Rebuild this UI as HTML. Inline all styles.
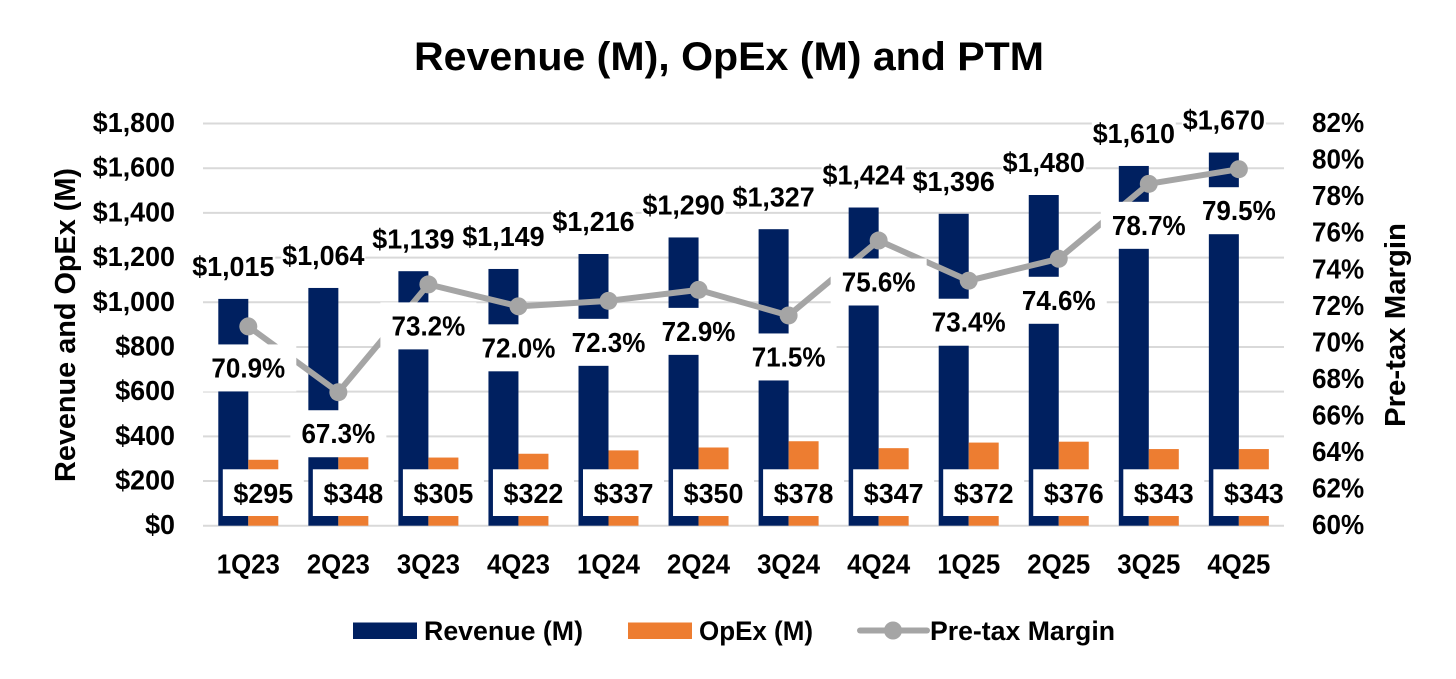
<!DOCTYPE html>
<html lang="en">
<head>
<meta charset="utf-8">
<title>Revenue (M), OpEx (M) and PTM</title>
<style>
  html, body { margin: 0; padding: 0; background: #fff; }
  svg { display: block; }
  text { font-family: "Liberation Sans", sans-serif; font-weight: 700; fill: #000; }
  .val { font-size: 28px; }
  .tick { font-size: 28px; }
</style>
</head>
<body>
<svg id="chart" width="1456" height="679" viewBox="0 0 1456 679" xmlns="http://www.w3.org/2000/svg">
  <rect x="0" y="0" width="1456" height="679" fill="#ffffff"/>
  <text x="729" y="70" text-anchor="middle" font-size="40" textLength="630" lengthAdjust="spacingAndGlyphs">Revenue (M), OpEx (M) and PTM</text>
  <text transform="translate(75,325) rotate(-90)" text-anchor="middle" font-size="29" textLength="314" lengthAdjust="spacingAndGlyphs">Revenue and OpEx (M)</text>
  <text transform="translate(1405,325) rotate(-90)" text-anchor="middle" font-size="29" textLength="204" lengthAdjust="spacingAndGlyphs">Pre-tax Margin</text>
  <g id="grid"></g>
  <g id="rev-bars"></g>
  <g id="opex-bars"></g>
  <g id="ptm"></g>
  <g id="labels"></g>
  <g id="axes"></g>
  <g>
    <g>
      <rect x="353" y="622.5" width="64" height="16.5" fill="#002060"/>
      <text x="424" y="640" font-size="27" textLength="159" lengthAdjust="spacingAndGlyphs">Revenue (M)</text>
    </g>
    <g>
      <rect x="628" y="622.5" width="64" height="16.5" fill="#ED7D31"/>
      <text x="699" y="640" font-size="27" textLength="114" lengthAdjust="spacingAndGlyphs">OpEx (M)</text>
    </g>
    <g>
      <line x1="860" y1="630.5" x2="927" y2="630.5" stroke="#A5A5A5" stroke-width="6" stroke-linecap="round"/>
      <circle cx="893" cy="630.5" r="9" fill="#A5A5A5"/>
      <text x="930" y="640" font-size="27" textLength="185" lengthAdjust="spacingAndGlyphs">Pre-tax Margin</text>
    </g>
  </g>
</svg>
<script>
const categories = ["1Q23","2Q23","3Q23","4Q23","1Q24","2Q24","3Q24","4Q24","1Q25","2Q25","3Q25","4Q25"];
const revenue = [1015,1064,1139,1149,1216,1290,1327,1424,1396,1480,1610,1670];
const opex = [295,348,305,322,337,350,378,347,372,376,343,343];
const margin = [70.9,67.3,73.2,72.0,72.3,72.9,71.5,75.6,73.4,74.6,78.7,79.5];
const leftTicks = [0,200,400,600,800,1000,1200,1400,1600,1800];
const rightTicks = [60,62,64,66,68,70,72,74,76,78,80,82];

const NS = "http://www.w3.org/2000/svg";
const plotLeft = 203, plotRight = 1284, plotTop = 123.5, plotBottom = 525.7;
const firstCenter = 248.3, catStep = 90.05, barWidth = 30;
const yLeft = v => plotBottom - (v - leftTicks[0]) / (leftTicks[leftTicks.length - 1] - leftTicks[0]) * (plotBottom - plotTop);
const yRight = v => plotBottom - (v - rightTicks[0]) / (rightTicks[rightTicks.length - 1] - rightTicks[0]) * (plotBottom - plotTop);
const xCat = i => firstCenter + i * catStep;
const money = v => "$" + v.toLocaleString("en-US");

function make(tag, parent, attrs, txt) {
  const el = document.createElementNS(NS, tag);
  for (const k in attrs) el.setAttribute(k, attrs[k]);
  if (txt !== undefined) el.textContent = txt;
  parent.appendChild(el);
  return el;
}
/* narrow a rendered label horizontally so it keeps the taller, condensed look */
function condense(el, factor) {
  el.setAttribute("textLength", (el.getComputedTextLength() * factor).toFixed(1));
  el.setAttribute("lengthAdjust", "spacingAndGlyphs");
}
const moneyFit = 0.96, percentFit = 0.93, categoryFit = 0.92;

const gGrid = document.getElementById("grid");
const gRev = document.getElementById("rev-bars");
const gOpex = document.getElementById("opex-bars");
const gPtm = document.getElementById("ptm");
const gLabels = document.getElementById("labels");
const gAxes = document.getElementById("axes");

leftTicks.forEach(t => {
  const line = make("line", gGrid, {x1: plotLeft, x2: plotRight, y1: yLeft(t), y2: yLeft(t), stroke: "#D9D9D9", "stroke-width": 2});
  
  
  const lab = make("text", gAxes, {x: 175, y: yLeft(t) + 8.5, "text-anchor": "end", class: "tick"}, money(t));
  
  
  condense(lab, moneyFit);
});
rightTicks.forEach(t => {
  const lab = make("text", gAxes, {x: 1312, y: yRight(t) + 8.5, class: "tick"}, t + "%");
  
  
  condense(lab, percentFit);
});
categories.forEach((c, i) => {
  const lab = make("text", gAxes, {x: xCat(i), y: 573.5, "text-anchor": "middle", class: "tick"}, c);
  
  
  condense(lab, categoryFit);

  const rb = make("rect", gRev, {x: xCat(i) - barWidth, y: yLeft(revenue[i]), width: barWidth, height: yLeft(0) - yLeft(revenue[i]), fill: "#002060"});
  
  

  const ob = make("rect", gOpex, {x: xCat(i), y: yLeft(opex[i]), width: barWidth, height: yLeft(0) - yLeft(opex[i]), fill: "#ED7D31"});
  
  
});

const path = make("polyline", gPtm, {points: margin.map((m, i) => xCat(i) + "," + yRight(m)).join(" "), fill: "none", stroke: "#A5A5A5", "stroke-width": 6, "stroke-linejoin": "round", "stroke-linecap": "round"});


margin.forEach((m, i) => {
  const dot = make("circle", gPtm, {cx: xCat(i), cy: yRight(m), r: 9, fill: "#A5A5A5"});
  
  
});

/* white label backings first, so they sit under every label text */
revenue.forEach((v, i) => {
  const cy = yLeft(v) - 32.4, cx = xCat(i) - barWidth / 2;
  const bg = make("rect", gLabels, {x: cx - 42, y: cy - 12, width: 84, height: 24, fill: "#fff"});
  
  
});
margin.forEach((m, i) => {
  const cy = yRight(m) + 41.5;
  const bg = make("rect", gLabels, {x: xCat(i) - 48, y: cy - 23.5, width: 96, height: 47, fill: "#fff"});
  
  
});
opex.forEach((v, i) => {
  const bg = make("rect", gLabels, {x: xCat(i) + 15 - 40.5, y: 469.3, width: 81, height: 46.7, fill: "#fff"});
  
  
});
revenue.forEach((v, i) => {
  const t = make("text", gLabels, {x: xCat(i) - barWidth / 2, y: yLeft(v) - 32.4 + 9.5, "text-anchor": "middle", class: "val"}, money(v));
  
  
  condense(t, moneyFit);
});
margin.forEach((m, i) => {
  const t = make("text", gLabels, {x: xCat(i), y: yRight(m) + 41.5 + 9.5, "text-anchor": "middle", class: "val"}, m.toFixed(1) + "%");
  
  
  condense(t, percentFit);
});
opex.forEach((v, i) => {
  const t = make("text", gLabels, {x: xCat(i) + 15, y: 503, "text-anchor": "middle", class: "val"}, money(v));
  
  
  condense(t, moneyFit);
});
</script>
</body>
</html>
